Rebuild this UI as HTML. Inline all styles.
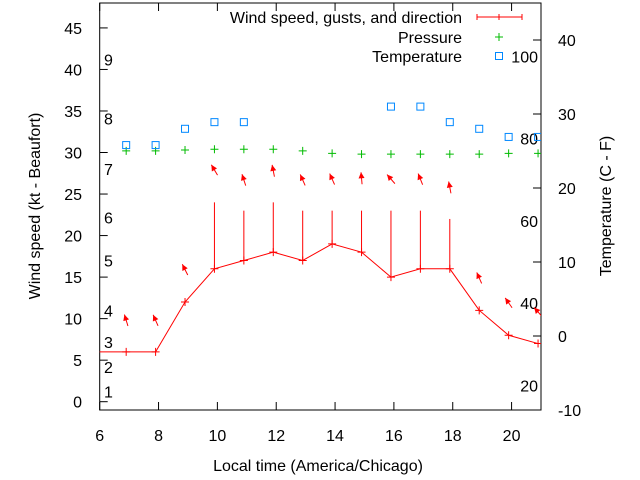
<!DOCTYPE html>
<html><head><meta charset="utf-8"><style>
body{margin:0;background:#fff}
svg{display:block;font-family:"Liberation Sans",sans-serif;font-size:16px}
</style></head><body>
<svg id="chart" width="640" height="480" viewBox="0 0 640 480" xmlns="http://www.w3.org/2000/svg"></svg>
<script>
const hours=[6.9,7.9,8.9,9.9,10.9,11.9,12.9,13.9,14.9,15.9,16.9,17.9,18.9,19.9,20.9];
const windSpeed=[6,6,12,16,17,18,17,19,18,15,16,16,11,8,7];
const gusts=[6,6,12,24,23,24,23,23,23,23,23,22,11,8,7];
const windDir=[163,156,153,149,162,169,156,156,175,139,158,169,156,145,139];
const arrowLevel=[9.8,9.8,15.9,27.9,26.7,27.8,26.7,26.8,26.9,26.8,26.8,25.8,14.9,11.9,10.8];
const tempHours=[6.9,7.9,8.9,9.9,10.9,15.9,16.9,17.9,18.9,19.9,20.9];
const tempC=[25.8,25.8,28,28.9,28.9,31,31,28.9,28,26.9,26.9];
const pressure=[30.2,30.2,30.3,30.4,30.4,30.4,30.2,29.9,29.8,29.8,29.8,29.8,29.8,29.9,29.9];
const xTicks=[6,8,10,12,14,16,18,20];
const yTicks=[0,5,10,15,20,25,30,35,40,45];
const y2Ticks=[-10,0,10,20,30,40];
const beaufortLabels=[[1,1.2],[2,4.2],[3,7.2],[4,11],[5,17],[6,22.2],[7,28],[8,34.1],[9,41.2]];
const fahrenheitLabels=[20,40,60,80,100];

const L=99.7,R=541,T=3,B=410;
const X0=6,X1=21,Y0=-1,Y1=48,T0=-10,T1=45;
const sx=v=>L+(v-X0)/(X1-X0)*(R-L);
const sy=v=>B-(v-Y0)/(Y1-Y0)*(B-T);
const sy2=v=>B-(v-T0)/(T1-T0)*(B-T);
const svg=document.getElementById('chart');
const NS='http://www.w3.org/2000/svg';
function mk(tag,attrs,parent){const e=document.createElementNS(NS,tag);for(const k in attrs)e.setAttribute(k,attrs[k]);(parent||svg).appendChild(e);return e;}
function txt(x,y,s,anchor,name,extra){const t=mk('text',Object.assign({x:x,y:y,'text-anchor':anchor||'start',fill:'#000'},extra||{}));t.textContent=s;


return t;}

xTicks.forEach(v=>{const x=sx(v);
const a=mk('line',{x1:x,y1:B,x2:x,y2:B-8,stroke:'#000'});


const b=mk('line',{x1:x,y1:T,x2:x,y2:T+8,stroke:'#000'});


txt(x,441,String(v),'middle','x-tick-label');});
yTicks.forEach(v=>{const y=sy(v);
const a=mk('line',{x1:L,y1:y,x2:L+8,y2:y,stroke:'#000'});


txt(82,y+6,String(v),'end','y-tick-label');});
y2Ticks.forEach(v=>{const y=sy2(v);
const a=mk('line',{x1:R,y1:y,x2:R-8,y2:y,stroke:'#000'});


txt(558,y+6,String(v),'start','y2-tick-label');});
beaufortLabels.forEach(p=>txt(104,sy(p[1])+6,String(p[0]),'start','beaufort-label'));
fahrenheitLabels.forEach(f=>txt(538,sy2((f-32)*5/9)+6,String(f),'end','fahrenheit-label'));

const fr=mk('rect',{x:L,y:T,width:R-L,height:B-T,fill:'none',stroke:'#000'});



const clip=mk('clipPath',{id:'pc'});mk('rect',{x:L,y:T,width:R-L,height:B-T},clip);
const g=mk('g',{'clip-path':'url(#pc)'});



let pts=[[sx(5.9),sy(windSpeed[0])]].concat(hours.map((h,i)=>[sx(h),sy(windSpeed[i])]));
const wl=mk('polyline',{points:pts.map(p=>p.join(',')).join(' '),fill:'none',stroke:'#f00'},g);


hours.forEach((h,i)=>{const x=sx(h),y=sy(windSpeed[i]);
const p=mk('path',{d:`M${x-4},${y}H${x+4}M${x},${y-4}V${y+4}`,stroke:'#f00'},g);


if(gusts[i]>windSpeed[i]){const gy=sy(gusts[i]);
const e=mk('path',{d:`M${x},${y}V${gy}`,stroke:'#f00'},g);

}
const a=(windDir[i]+180)*Math.PI/180, len=12;
const cx=x,cy=sy(arrowLevel[i]);
const dx=Math.sin(a)*len/2,dy=-Math.cos(a)*len/2;
const hx=cx+dx,hy=cy+dy,tx=cx-dx,ty=cy-dy;
const ux=dx/(len/2),uy=dy/(len/2);
const bx=hx-ux*6,by=hy-uy*6;
const ar=mk('g',{},g);


mk('line',{x1:tx,y1:ty,x2:hx,y2:hy,stroke:'#f00'},ar);
mk('polygon',{points:`${hx},${hy} ${bx-uy*3},${by+ux*3} ${bx+uy*3},${by-ux*3}`,fill:'#f00'},ar);
});
hours.forEach((h,i)=>{const x=sx(h),y=sy(pressure[i]);
const p=mk('path',{d:`M${x-4},${y}H${x+4}M${x},${y-4}V${y+4}`,stroke:'#0b0'},g);

});
tempHours.forEach((h,i)=>{const x=sx(h),y=sy2(tempC[i]);
const r=mk('rect',{x:x-3.5,y:y-3.5,width:7,height:7,fill:'none',stroke:'#08f'},g);

});

txt(462,23,'Wind speed, gusts, and direction','end','legend-wind-label');
const lw=mk('path',{d:'M477,17H522M477,14V20M522,14V20M499,14V20',stroke:'#f00'});


txt(462,43,'Pressure','end','legend-pressure-label');
const lp=mk('path',{d:'M495,37H503M499,33V41',stroke:'#0b0'});


txt(462,62,'Temperature','end','legend-temperature-label');
const lt=mk('rect',{x:495.5,y:52.5,width:7,height:7,fill:'none',stroke:'#08f'});



txt(318,471,'Local time (America/Chicago)','middle','x-axis-title');
txt(0,0,'Wind speed (kt - Beaufort)','middle','y-axis-title',{transform:'translate(40,206) rotate(-90)'});
txt(0,0,'Temperature (C - F)','middle','y2-axis-title',{transform:'translate(611,206) rotate(-90)'});
</script>
</body></html>
